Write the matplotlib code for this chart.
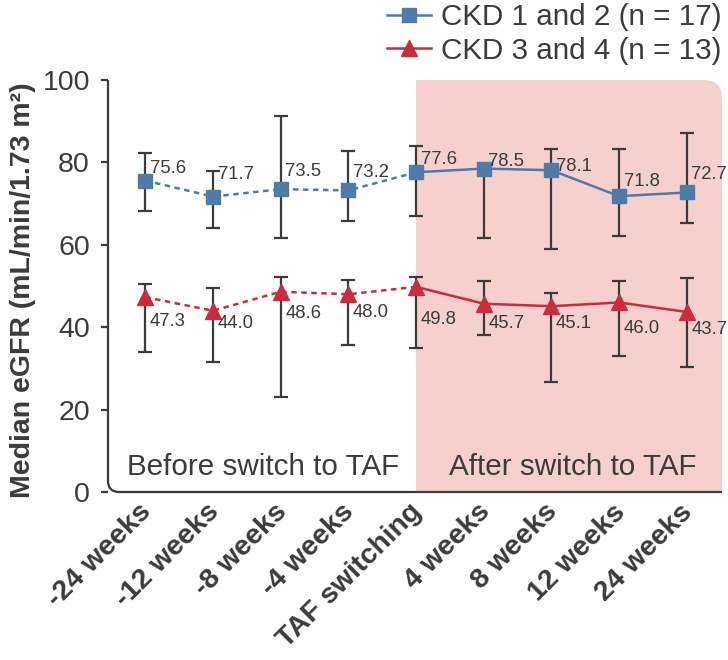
import matplotlib
matplotlib.use("Agg")
import matplotlib.pyplot as plt
from matplotlib.path import Path
from matplotlib.patches import PathPatch
from matplotlib.transforms import ScaledTranslation
import numpy as np

plt.rcParams['font.family'] = ['Liberation Sans', 'DejaVu Sans']

categories = ["-24 weeks", "-12 weeks", "-8 weeks", "-4 weeks", "TAF switching",
              "4 weeks", "8 weeks", "12 weeks", "24 weeks"]
ckd12 = [75.6, 71.7, 73.5, 73.2, 77.6, 78.5, 78.1, 71.8, 72.7]
ckd12_hi = [82.3, 77.9, 91.3, 82.8, 84.1, 79.0, 83.3, 83.3, 87.1]
ckd12_lo = [68.2, 64.0, 61.7, 65.8, 67.1, 61.6, 59.1, 62.2, 65.2]
ckd34 = [47.3, 44.0, 48.6, 48.0, 49.8, 45.7, 45.1, 46.0, 43.7]
ckd34_hi = [50.5, 49.4, 52.3, 51.5, 52.1, 51.3, 48.2, 51.3, 51.9]
ckd34_lo = [33.9, 31.5, 23.0, 35.7, 35.0, 38.1, 26.6, 33.1, 30.3]
series_names = ["CKD 1 and 2 (n = 17)", "CKD 3 and 4 (n = 13)"]

# label vertical offsets (pixels) for value annotations
lab12_dy = [12, 22, 18, 18, 13, 7, 4, 15, 18]
lab34_dy = [-24, -13, -22, -18, -33, -20, -17, -26, -18]

BLUE = "#4f7bab"
RED = "#cc2b3b"
TXT = "#3b3b3b"
SHADE = "#f6d0cc"

fig = plt.figure(figsize=(7.28, 6.6), dpi=100)
ax = fig.add_axes([108/728, 1 - 492/660, (722 - 108)/728, (492 - 80)/660])
ax.set_xlim(-0.55, 8.52)
ax.set_ylim(0, 100)

x = np.arange(len(categories))
sw = 4

# shaded "after" region with rounded top-right corner
xr, ytop = 8.52, 100
rx, ry = 0.27, 4.4
verts = [(sw, 0), (sw, ytop), (xr - rx, ytop), (xr, ytop), (xr, ytop - ry), (xr, 0), (sw, 0)]
codes = [Path.MOVETO, Path.LINETO, Path.LINETO, Path.CURVE3, Path.CURVE3, Path.LINETO, Path.CLOSEPOLY]
ax.add_patch(PathPatch(Path(verts, codes), facecolor=SHADE, edgecolor='none', zorder=0, clip_on=False))

# spines with rounded bottom-left corner
for s in ax.spines.values():
    s.set_visible(False)
r_ax_x, r_ax_y = 0.018, 0.027
sv = [(0, 1), (0, r_ax_y), (0, 0), (r_ax_x, 0), (1, 0)]
sc = [Path.MOVETO, Path.LINETO, Path.CURVE3, Path.CURVE3, Path.LINETO]
ax.add_patch(PathPatch(Path(sv, sc), transform=ax.transAxes, facecolor='none',
                       edgecolor=TXT, lw=1.6, clip_on=False, zorder=5))

def draw(vals, hi, lo, color, marker, ms, dys, label):
    vals = np.array(vals); hi = np.array(hi); lo = np.array(lo)
    yerr = np.vstack([vals - lo, hi - vals])
    ax.errorbar(x, vals, yerr=yerr, fmt='none', ecolor=TXT, elinewidth=1.6,
                capsize=4.8, capthick=1.6, zorder=3)
    ax.plot(x[:sw + 1], vals[:sw + 1], color=color, lw=1.8, ls=(0, (2.2, 1.8)), zorder=2)
    ax.plot(x[sw:], vals[sw:], color=color, lw=1.8, zorder=2)
    ax.plot(x, vals, ls='none', marker=marker, ms=ms, color=color, zorder=4)
    for xi, v, dy in zip(x, vals, dys):
        ax.annotate(f"{v:.1f}", (xi, v), xytext=(3.3, dy * 0.72), textcoords='offset points',
                    ha='left', va='center', fontsize=13.3, color=TXT, zorder=6)
    return ax.plot([], [], color=color, lw=1.8, marker=marker, ms=ms, label=label)[0]

h1 = draw(ckd12, ckd12_hi, ckd12_lo, BLUE, 's', 10.5, lab12_dy, series_names[0])
h2 = draw(ckd34, ckd34_hi, ckd34_lo, RED, '^', 11, lab34_dy, series_names[1])

ax.set_xticks(x)
ax.set_xticklabels(categories, rotation=45, ha='right', va='top', rotation_mode='anchor',
                   fontsize=20.5, fontweight='bold', color=TXT)
ax.tick_params(axis='x', length=0, pad=5)
shift = ScaledTranslation(-7/100, 0, fig.dpi_scale_trans)
for lab in ax.get_xticklabels():
    lab.set_transform(lab.get_transform() + shift)
ax.set_yticks([0, 20, 40, 60, 80, 100])
ax.tick_params(axis='y', direction='out', length=5, width=1.6, color=TXT,
               labelsize=20.5, labelcolor=TXT, pad=8)
ax.set_ylabel("Median eGFR (mL/min/1.73 m²)", fontsize=20.5, fontweight='bold', color=TXT)
ax.yaxis.set_label_coords(-0.118, 0.49)

ax.text(1.74, 6.1, "Before switch to TAF", ha='center', va='center', fontsize=21.3, color=TXT)
ax.text(6.32, 6.1, "After switch to TAF", ha='center', va='center', fontsize=21.3, color=TXT)

fig.legend(handles=[h1, h2], loc='upper right', bbox_to_anchor=(1.012, 1.018), frameon=False,
           fontsize=21.3, handlelength=1.5, handletextpad=0.35, labelspacing=0.2,
           labelcolor=TXT, borderaxespad=0.1)

fig.savefig("out.png", dpi=100)
